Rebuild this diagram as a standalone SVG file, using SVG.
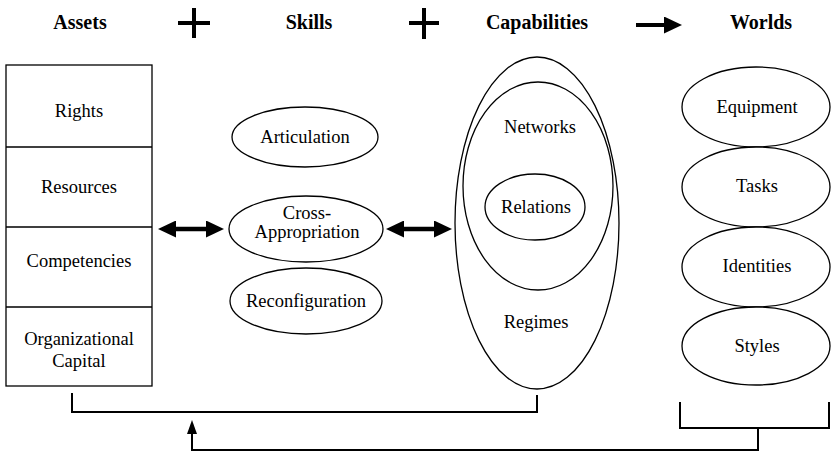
<svg xmlns="http://www.w3.org/2000/svg" width="831" height="453" viewBox="0 0 831 453">
<style>
text{font-family:"Liberation Serif","Times New Roman","DejaVu Serif",serif;fill:#000;text-anchor:middle}
.hd{font-weight:bold;font-size:20px}
.t{font-size:18.5px}
.shape{fill:#fff;stroke:#000;stroke-width:1.3}
.br{fill:none;stroke:#000;stroke-width:2}
.thick{fill:none;stroke:#000;stroke-width:4.5}
.op{fill:none;stroke:#000;stroke-width:4}
</style>
<defs>
<marker id="big" markerWidth="18" markerHeight="17" refX="2" refY="8.5" orient="auto-start-reverse" markerUnits="userSpaceOnUse">
<path d="M0,0 L18,8.5 L0,17 z" fill="#000"/>
</marker>
<marker id="small" markerWidth="14" markerHeight="10" refX="1" refY="5" orient="auto" markerUnits="userSpaceOnUse">
<path d="M0,0 L14,5 L0,10 z" fill="#000"/>
</marker>
</defs>
<rect width="831" height="453" fill="#fff"/>
<g id="headers" font-family="Liberation Serif, serif">
<text class="hd" x="80" y="29">Assets</text>
<text class="hd" x="309" y="29">Skills</text>
<text class="hd" x="537" y="29">Capabilities</text>
<text class="hd" x="761" y="29">Worlds</text>
<path class="op" d="M178,23 H210 M194,8 V38"/>
<path class="op" d="M409,23 H439 M424,8 V39"/>
<path class="op" d="M636,25 H666" marker-end="url(#big)"/>
</g>
<g id="assets" font-family="Liberation Serif, serif">
<rect class="shape" x="6" y="65" width="146" height="321" stroke-width="1.5"/>
<path class="shape" d="M6,147 H152 M6,227 H152 M6,307 H152"/>
<text class="t" x="79" y="117">Rights</text>
<text class="t" x="79" y="193">Resources</text>
<text class="t" x="79" y="267">Competencies</text>
<text class="t" x="79" y="345">Organizational</text>
<text class="t" x="79" y="367">Capital</text>
</g>
<g id="articulation" font-family="Liberation Serif, serif">
<ellipse class="shape" cx="305" cy="137" rx="73" ry="30"/>
<text class="t" x="305" y="143">Articulation</text>
</g>
<g id="cross-appropriation" font-family="Liberation Serif, serif">
<ellipse class="shape" cx="306" cy="229" rx="77" ry="33"/>
<text class="t" x="307" y="219">Cross-</text>
<text class="t" x="307" y="238">Appropriation</text>
</g>
<g id="reconfiguration" font-family="Liberation Serif, serif">
<ellipse class="shape" cx="306" cy="301" rx="76" ry="33"/>
<text class="t" x="306" y="307">Reconfiguration</text>
</g>
<g id="regimes" font-family="Liberation Serif, serif">
<ellipse class="shape" cx="537" cy="223" rx="82" ry="166"/>
<text class="t" x="536" y="328">Regimes</text>
</g>
<g id="networks" font-family="Liberation Serif, serif">
<ellipse class="shape" cx="538" cy="186" rx="75" ry="104"/>
<text class="t" x="540" y="133">Networks</text>
</g>
<g id="relations" font-family="Liberation Serif, serif">
<ellipse class="shape" cx="535" cy="207" rx="50" ry="33"/>
<text class="t" x="536" y="213">Relations</text>
</g>
<g id="equipment" font-family="Liberation Serif, serif">
<ellipse class="shape" cx="756" cy="107" rx="74" ry="40"/>
<text class="t" x="757" y="113">Equipment</text>
</g>
<g id="tasks" font-family="Liberation Serif, serif">
<ellipse class="shape" cx="756" cy="187" rx="74" ry="40"/>
<text class="t" x="757" y="192">Tasks</text>
</g>
<g id="identities" font-family="Liberation Serif, serif">
<ellipse class="shape" cx="756" cy="267" rx="74" ry="40"/>
<text class="t" x="757" y="272">Identities</text>
</g>
<g id="styles" font-family="Liberation Serif, serif">
<ellipse class="shape" cx="756" cy="346" rx="74" ry="39"/>
<text class="t" x="757" y="352">Styles</text>
</g>
<g id="connectors">
<path class="thick" d="M174,229 H208" marker-start="url(#big)" marker-end="url(#big)"/>
<path class="thick" d="M402,229 H436" marker-start="url(#big)" marker-end="url(#big)"/>
<path class="br" d="M72,393 V412 H537 V395"/>
<path class="br" d="M680,402 V428 H829 V402"/>
<path class="br" d="M758,428 V450 H192 V433" marker-end="url(#small)"/>
</g>
</svg>
